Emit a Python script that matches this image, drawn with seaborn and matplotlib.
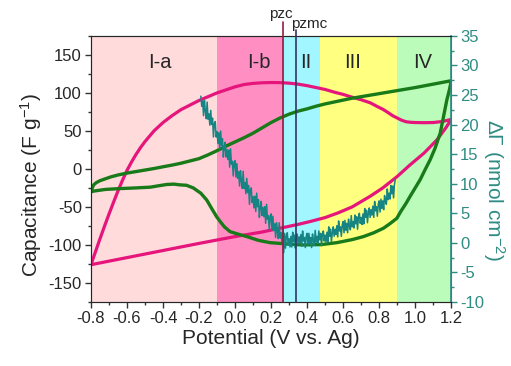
import numpy as np
import pandas as pd
import matplotlib
matplotlib.use("Agg")
import matplotlib.pyplot as plt
import matplotlib.transforms as mtransforms
from matplotlib.ticker import MultipleLocator
import seaborn as sns

# capacitance CV (magenta), upper branch (1.2 -> -0.8) then lower branch (-0.8 -> 1.2)
cap_v = [1.20, 1.18, 1.15, 1.10, 1.05, 1.00, 0.975, 0.95, 0.925, 0.90, 0.875,
         0.85, 0.82, 0.79, 0.75, 0.70, 0.64, 0.60, 0.55, 0.50, 0.45, 0.40,
         0.35, 0.30, 0.25, 0.20, 0.15, 0.10, 0.05, 0.00, -0.05, -0.10, -0.15,
         -0.20, -0.25, -0.30, -0.35, -0.40, -0.45, -0.50, -0.525, -0.55, -0.575,
         -0.60, -0.625, -0.65, -0.675, -0.70, -0.725, -0.75, -0.775, -0.80,
         -0.50, -0.20, 0.00, 0.15, 0.27, 0.35, 0.42, 0.50, 0.57, 0.65, 0.75,
         0.82, 0.90, 0.97, 1.05, 1.12, 1.17, 1.20]
cap_c = [65, 64, 62.3, 61, 60.8, 61, 61.3, 62, 64, 67, 70,
         74, 78.5, 82, 87, 91, 95, 98, 101, 104.5, 107, 109.5,
         111.5, 112.8, 113.5, 113.6, 113.3, 112.5, 111, 108, 104, 100, 95,
         90, 84, 78, 70, 61, 50, 36, 28, 19, 9,
         -2, -15, -29, -44, -59.5, -75.5, -92, -109, -126,
         -112, -98, -89, -83, -77, -73, -69, -64, -58, -50, -36,
         -25, -10, 5, 21, 38, 54, 65]

# second CV (green), upper branch (-0.8 -> 1.2) then lower branch back
cv2_v = [-0.80, -0.795, -0.785, -0.77, -0.75, -0.72, -0.69, -0.65, -0.60, -0.55,
         -0.50, -0.45, -0.40, -0.35, -0.30, -0.25, -0.20, -0.15, -0.10, -0.05,
         0.00, 0.05, 0.10, 0.15, 0.20, 0.25, 0.30, 0.35, 0.40, 0.45, 0.50,
         0.55, 0.60, 0.65, 0.70, 0.80, 0.90, 1.00, 1.10, 1.20,
         1.19, 1.176, 1.16, 1.139, 1.11, 1.083, 1.055, 1.028, 1.00, 0.972,
         0.95, 0.92, 0.898, 0.86, 0.824, 0.77, 0.713, 0.65, 0.565, 0.48,
         0.38, 0.30, 0.25, 0.194, 0.13, 0.065, 0.02, -0.028, -0.06, -0.08,
         -0.102, -0.13, -0.157, -0.19, -0.232, -0.27, -0.306, -0.34, -0.38,
         -0.42, -0.47, -0.55, -0.65, -0.72, -0.78, -0.80]
cv2_c = [-30, -26, -21, -18, -15.5, -13, -10.5, -8, -5.5, -3.5,
         -1.5, 0.5, 2.8, 5, 7.5, 10.5, 13.5, 18.5, 24, 30,
         35.5, 41, 47, 54, 61, 67, 72, 76, 79, 82.5, 85.5,
         88, 90.5, 93, 95, 99, 103, 107, 111.5, 116,
         104, 91, 72, 47, 27, 12, -1, -14, -25, -36,
         -45, -56, -65, -72, -78, -84, -89, -93, -97, -99.5,
         -100, -99, -98, -97, -94, -89, -86, -82.5, -76, -70,
         -63, -52, -41, -32, -25, -21.5, -21, -20, -20.5,
         -22, -24, -25, -26, -27, -29, -30]

# surface excess (teal, right axis)
gam_v = [-0.190, -0.185, -0.180, -0.175, -0.170, -0.165, -0.160, -0.155, -0.150, -0.145,
         -0.140, -0.135, -0.130, -0.125, -0.120, -0.115, -0.110, -0.105, -0.100, -0.095,
         -0.090, -0.085, -0.080, -0.075, -0.070, -0.065, -0.060, -0.055, -0.050, -0.045,
         -0.040, -0.035, -0.030, -0.025, -0.020, -0.015, -0.010, -0.005, 0.000, 0.005,
         0.010, 0.015, 0.020, 0.025, 0.030, 0.035, 0.040, 0.045, 0.050, 0.055,
         0.060, 0.065, 0.070, 0.075, 0.080, 0.085, 0.090, 0.095, 0.100, 0.105,
         0.110, 0.115, 0.120, 0.125, 0.130, 0.135, 0.140, 0.145, 0.150, 0.155,
         0.160, 0.165, 0.170, 0.175, 0.180, 0.185, 0.190, 0.195, 0.200, 0.205,
         0.210, 0.215, 0.220, 0.225, 0.230, 0.235, 0.240, 0.245, 0.250, 0.255,
         0.260, 0.265, 0.270, 0.275, 0.280, 0.285, 0.290, 0.295, 0.300, 0.305,
         0.310, 0.315, 0.320, 0.325, 0.330, 0.335, 0.340, 0.345, 0.350, 0.355,
         0.360, 0.365, 0.370, 0.375, 0.380, 0.385, 0.390, 0.395, 0.400, 0.405,
         0.410, 0.415, 0.420, 0.425, 0.430, 0.435, 0.440, 0.445, 0.450, 0.455,
         0.460, 0.465, 0.470, 0.475, 0.480, 0.485, 0.490, 0.495, 0.500, 0.505,
         0.510, 0.515, 0.520, 0.525, 0.530, 0.535, 0.540, 0.545, 0.550, 0.555,
         0.560, 0.565, 0.570, 0.575, 0.580, 0.585, 0.590, 0.595, 0.600, 0.605,
         0.610, 0.615, 0.620, 0.625, 0.630, 0.635, 0.640, 0.645, 0.650, 0.655,
         0.660, 0.665, 0.670, 0.675, 0.680, 0.685, 0.690, 0.695, 0.700, 0.705,
         0.710, 0.715, 0.720, 0.725, 0.730, 0.735, 0.740, 0.745, 0.750, 0.755,
         0.760, 0.765, 0.770, 0.775, 0.780, 0.785, 0.790, 0.795, 0.800, 0.805,
         0.810, 0.815, 0.820, 0.825, 0.830, 0.835, 0.840, 0.845, 0.850, 0.855,
         0.860, 0.865, 0.870, 0.875, 0.880, 0.885, 0.890]
gam_g = [24.8, 23.1, 24.0, 21.5, 24.1, 22.3, 21.0, 23.8, 20.9, 21.8,
         19.9, 22.4, 20.0, 21.1, 17.9, 20.2, 20.5, 17.9, 18.8, 16.8,
         18.6, 15.9, 18.9, 16.5, 17.6, 14.5, 16.1, 17.0, 14.5, 15.8,
         14.1, 15.7, 12.8, 15.9, 13.3, 13.8, 11.3, 13.6, 13.9, 11.1,
         13.4, 10.9, 12.0, 9.6, 12.2, 10.5, 9.2, 12.1, 9.2, 10.2,
         8.3, 10.9, 8.5, 9.7, 6.5, 9.0, 9.3, 6.8, 7.8, 5.9,
         7.9, 5.3, 8.4, 6.1, 7.3, 4.3, 6.0, 7.0, 4.6, 6.0,
         4.4, 6.1, 3.3, 6.5, 4.0, 4.6, 2.2, 4.5, 4.9, 2.1,
         4.5, 2.1, 3.2, 0.9, 3.4, 1.9, 0.7, 3.4, 0.8, 1.7,
         0.2, 2.3, -1.7, 1.6, -0.9, 1.2, 1.7, -0.4, 0.7, -0.7,
         1.1, -0.7, 1.8, 0.2, 1.3, -0.9, 0.6, 1.5, -0.2, 1.0,
         0.0, 1.4, -0.6, 2.0, 0.3, 0.9, -0.8, 1.1, 1.6, -0.4,
         1.6, -0.2, 0.9, -0.8, 1.5, 0.4, -0.4, 2.1, 0.1, 1.1,
         -0.1, 2.0, 0.5, 1.6, -0.5, 1.5, 2.0, 0.3, 1.3, 0.1,
         1.8, 0.1, 2.7, 1.1, 2.3, 0.2, 1.7, 2.7, 1.1, 2.3,
         1.4, 2.9, 1.0, 3.7, 2.0, 2.7, 1.1, 3.0, 3.6, 1.7,
         3.8, 2.1, 3.3, 1.7, 4.0, 2.9, 2.2, 4.6, 2.7, 3.6,
         2.5, 4.7, 3.2, 4.4, 2.3, 4.4, 5.0, 3.3, 4.3, 3.1,
         4.9, 3.2, 5.8, 4.3, 5.5, 3.4, 5.0, 5.9, 4.3, 5.6,
         4.7, 6.2, 4.3, 7.0, 5.4, 6.1, 4.5, 6.5, 7.1, 5.2,
         7.4, 5.8, 7.1, 5.6, 8.0, 7.1, 6.5, 9.1, 7.3, 8.4,
         7.4, 9.7, 8.3, 9.6, 7.6, 9.9, 10.8]

# potential regions
reg_names = ["I-a", "I-b", "II", "III", "IV"]
reg_edges = [-0.8, -0.1, 0.27, 0.47, 0.90, 1.2]
reg_colors = ["#FFDBDB", "#FF8FC3", "#A2F6FF", "#FFFF80", "#BBFCBB"]
reg_text_v = [-0.42, 0.13, 0.39, 0.65, 1.04]
pzc, pzmc = 0.267, 0.339

sns.set_style("ticks")
plt.rcParams["font.family"] = ["Liberation Sans", "DejaVu Sans"]
plt.rcParams["axes.unicode_minus"] = False
plt.rcParams["mathtext.fontset"] = "custom"
plt.rcParams["mathtext.rm"] = "Liberation Sans"
plt.rcParams["mathtext.it"] = "Liberation Sans:italic"

teal = "#178484"
axcol = "#2E8C84"

fig = plt.figure(figsize=(5.11, 3.66), dpi=100)
ax = fig.add_axes([0.178, 0.175, 0.705, 0.727])

for i, name in enumerate(reg_names):
    ax.axvspan(reg_edges[i], reg_edges[i + 1], color=reg_colors[i], lw=0, zorder=0)
    ax.text(reg_text_v[i], 140, name, ha="center", va="center", fontsize=14.5)

sns.lineplot(x=cap_v, y=cap_c, sort=False, estimator=None, ax=ax,
             color="#E5157C", lw=2.3, zorder=3)
sns.lineplot(x=cv2_v, y=cv2_c, sort=False, estimator=None, ax=ax,
             color="#187A18", lw=2.4, zorder=3)

xt = [-0.8, -0.6, -0.4, -0.2, 0.0, 0.2, 0.4, 0.6, 0.8, 1.0, 1.2]
ax.set_xlim(-0.8, 1.2)
ax.set_ylim(-175, 175)
ax.set_xticks(xt)
ax.set_xticklabels([f"{t:.1f}" for t in xt])
ax.xaxis.set_minor_locator(MultipleLocator(0.1))
ax.yaxis.set_major_locator(MultipleLocator(50))
ax.yaxis.set_minor_locator(MultipleLocator(25))
ax.tick_params(labelsize=12, length=4, width=1, color="#333333", pad=2.5)
ax.tick_params(which="minor", length=2.5, width=1, color="#333333")
ax.set_xlabel("Potential (V vs. Ag)", fontsize=15, labelpad=2)
ax.set_ylabel("Capacitance (F g$^{-1}$)", fontsize=15)
ax.yaxis.set_label_coords(-0.13, 0.44)
for s in ax.spines.values():
    s.set_color("#555555")

ax2 = ax.twinx()
sns.lineplot(x=gam_v, y=gam_g, sort=False, estimator=None, ax=ax2,
             color=teal, lw=1.1, zorder=4)
ax2.set_ylim(-10, 35)
ax2.yaxis.set_major_locator(MultipleLocator(5))
ax2.yaxis.set_minor_locator(MultipleLocator(2.5))
ax2.tick_params(labelsize=12, length=4, width=1, colors=axcol, pad=2.5)
ax2.tick_params(which="minor", length=2.5, width=1, colors=axcol)
ax2.spines["right"].set_color(axcol)
ax2.spines["right"].set_linewidth(1.2)
ax2.set_ylabel("$\\Delta\\mathit{Γ}$ (nmol cm$^{-2}$)", fontsize=15,
               color=axcol, rotation=-90, va="center", ha="center")
ax2.yaxis.set_label_coords(1.12, 0.42)

# pzc / pzmc markers sticking out above the frame
ax2.axvline(pzc, ymin=0, ymax=1.053, color="#8C2040", lw=1.2, clip_on=False, zorder=5)
ax2.axvline(pzmc, ymin=0, ymax=1.023, color="#333366", lw=1.2, clip_on=False, zorder=5)
trans = mtransforms.blended_transform_factory(ax.transData, ax.transAxes)
ax2.text(0.256, 1.083, "pzc", transform=trans, ha="center", va="center", fontsize=11)
ax2.text(0.41, 1.045, "pzmc", transform=trans, ha="center", va="center", fontsize=11)

plt.savefig("out.png", dpi=100)
